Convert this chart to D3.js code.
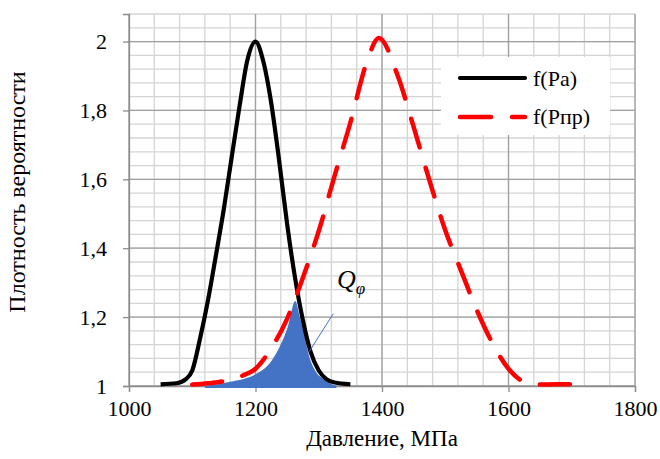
<!DOCTYPE html>
<html>
<head>
<meta charset="utf-8">
<script src="https://cdn.jsdelivr.net/npm/d3@7"></script>
<style>
  body { margin: 0; background: #fff; }
  svg text { font-family: "Liberation Serif", "Times New Roman", serif; fill: #000; }
</style>
</head>
<body>
<div class="drawBoard"></div>
<script>
// data
const paX = [1050, 1075, 1090, 1100, 1112, 1125, 1137, 1150, 1162, 1175, 1187, 1200,
             1212, 1225, 1237, 1250, 1262, 1275, 1287, 1300, 1312, 1325, 1350];
const paY = [1.005, 1.008, 1.02, 1.045, 1.135, 1.25, 1.375, 1.515, 1.66, 1.815, 1.945, 2.0,
             1.945, 1.82, 1.66, 1.47, 1.32, 1.19, 1.1, 1.045, 1.02, 1.01, 1.005];

const pprX = [1100, 1125, 1150, 1175, 1200, 1225, 1250, 1275, 1300, 1325, 1350, 1375, 1395,
              1425, 1450, 1475, 1500, 1525, 1550, 1575, 1600, 1625, 1650, 1675, 1700];
const pprY = [1.004, 1.008, 1.014, 1.027, 1.05, 1.11, 1.195, 1.315, 1.45, 1.61, 1.765, 1.935, 2.01,
              1.90, 1.752, 1.597, 1.452, 1.335, 1.22, 1.123, 1.05, 1.012, 1.004, 1.005, 1.005];

// overlap area Q
const qX = [1120, 1160, 1200, 1222, 1238, 1251, 1263, 1270, 1278, 1283, 1294, 1307, 1328];
const qY = [1.0, 1.012, 1.034, 1.065, 1.113, 1.171, 1.247, 1.2, 1.142, 1.099, 1.046, 1.021, 1.0];

const xTicks = [1000, 1200, 1400, 1600, 1800];
const yTicks = [1, 1.2, 1.4, 1.6, 1.8, 2];
const legendNames = ['f(Pa)', 'f(Pпр)'];

const W = 660, H = 459;
const margin = {left: 129, right: 25, top: 14, bottom: 73};

const svg = d3.select('.drawBoard').append('svg')
    .attr('width', W)
    .attr('height', H);

const x = d3.scaleLinear().domain([1000, 1800]).range([margin.left, W - margin.right]);
const y = d3.scaleLinear().domain([1, 2.08]).range([H - margin.bottom, margin.top]);

// minor grid
const xMinor = d3.range(1000, 1800.1, 40);
const yMinor = d3.range(0, 28).map(i => 1 + i * 0.04);

svg.append('g').selectAll('line').data(xMinor).join('line')
    .attr('x1', d => x(d)).attr('x2', d => x(d))
    .attr('y1', y(2.08)).attr('y2', y(1))
    .attr('stroke', '#d4d4d4').attr('stroke-width', 1.3);
svg.append('g').selectAll('line').data(yMinor).join('line')
    .attr('x1', x(1000)).attr('x2', x(1800))
    .attr('y1', d => y(d)).attr('y2', d => y(d))
    .attr('stroke', '#d4d4d4').attr('stroke-width', 1.3);

// major grid
svg.append('g').selectAll('line').data(xTicks).join('line')
    .attr('x1', d => x(d)).attr('x2', d => x(d))
    .attr('y1', y(2.08)).attr('y2', y(1))
    .attr('stroke', '#a0a0a0').attr('stroke-width', 1.3);
svg.append('g').selectAll('line').data(yTicks).join('line')
    .attr('x1', x(1000)).attr('x2', x(1800))
    .attr('y1', d => y(d)).attr('y2', d => y(d))
    .attr('stroke', '#a0a0a0').attr('stroke-width', 1.3);

// axes
const xAxis = svg.append('g')
    .attr('transform', `translate(0,${y(1)})`)
    .call(d3.axisBottom(x).tickValues(xTicks).tickSize(6).tickPadding(8).tickFormat(d3.format('d')));
const yAxis = svg.append('g')
    .attr('transform', `translate(${x(1000)},0)`)
    .call(d3.axisLeft(y).tickValues(yTicks).tickSize(6).tickPadding(16)
        .tickFormat(d => String(d).replace('.', ',')));

[xAxis, yAxis].forEach(a => {
    a.attr('font-family', null);
    a.selectAll('path, line').attr('stroke', '#8c8c8c').attr('stroke-width', 1.3);
    a.selectAll('text').attr('font-size', 22).attr('fill', '#000');
});

// shaded overlap
const qData = qX.map((d, i) => [d, qY[i]]);
svg.append('path')
    .datum(qData)
    .attr('d', d3.area().x(d => x(d[0])).y0(y(1) + 2).y1(d => y(d[1])).curve(d3.curveMonotoneX))
    .attr('fill', '#4472c4');

// curves
const paData = paX.map((d, i) => [d, paY[i]]);
const pprData = pprX.map((d, i) => [d, pprY[i]]);
const line = d3.line().x(d => x(d[0])).y(d => y(d[1])).curve(d3.curveMonotoneX);

svg.append('path').datum(paData)
    .attr('d', line)
    .attr('fill', 'none').attr('stroke', '#000').attr('stroke-width', 4.2)
    .attr('stroke-linejoin', 'round');

svg.append('path').datum(pprData)
    .attr('d', line)
    .attr('fill', 'none').attr('stroke', '#ff0000').attr('stroke-width', 4.5)
    .attr('stroke-dasharray', '30,21').attr('stroke-linecap', 'round');

// pointer to Q label
svg.append('line')
    .attr('x1', x(1285)).attr('y1', y(1.1))
    .attr('x2', x(1323)).attr('y2', y(1.21))
    .attr('stroke', '#4472c4').attr('stroke-width', 1);

const qLabel = svg.append('text')
    .attr('x', 337).attr('y', 288)
    .attr('font-size', 26).attr('font-style', 'italic');
qLabel.append('tspan').text('Q');
qLabel.append('tspan').attr('dy', 6).attr('font-size', 17).text('φ');

// legend
const legend = svg.append('g');
legend.append('rect')
    .attr('x', 441).attr('y', 57).attr('width', 169).attr('height', 78)
    .attr('fill', '#fff');
legend.append('line')
    .attr('x1', 460).attr('x2', 525).attr('y1', 78).attr('y2', 78)
    .attr('stroke', '#000').attr('stroke-width', 4.2).attr('stroke-linecap', 'round');
legend.append('line')
    .attr('x1', 460).attr('x2', 525).attr('y1', 117).attr('y2', 117)
    .attr('stroke', '#ff0000').attr('stroke-width', 4.5)
    .attr('stroke-dasharray', '31,21').attr('stroke-linecap', 'round');
legend.selectAll('text.leg').data(legendNames).join('text')
    .attr('class', 'leg')
    .attr('x', 533)
    .attr('y', (d, i) => 86 + i * 38)
    .attr('font-size', 22)
    .text(d => d);

// axis titles
svg.append('text')
    .attr('x', x(1400)).attr('y', 446)
    .attr('text-anchor', 'middle')
    .attr('font-size', 23)
    .text('Давление, МПа');

svg.append('text')
    .attr('transform', `translate(25,192) rotate(-90)`)
    .attr('text-anchor', 'middle')
    .attr('font-size', 24)
    .text('Плотность вероятности');
</script>
</body>
</html>
